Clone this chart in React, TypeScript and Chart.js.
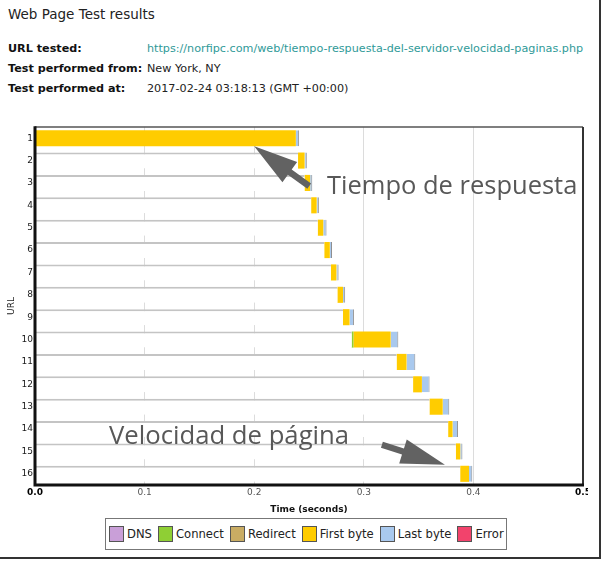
import React, { useEffect, useRef } from 'react';
import { Chart, registerables } from 'chart.js';
Chart.register(...registerables);

const FONT = '"DejaVu Sans", Verdana, sans-serif';

const categories = ['1', '2', '3', '4', '5', '6', '7', '8', '9', '10', '11', '12', '13', '14', '15', '16'];
const startOffset = [0, 0.24, 0.246, 0.252, 0.258, 0.264, 0.27, 0.276, 0.281, 0.289, 0.33, 0.345, 0.36, 0.377, 0.384, 0.388];
const dnsTime = [0, 0, 0, 0, 0, 0, 0, 0, 0, 0, 0, 0, 0, 0, 0, 0];
const connectTime = [0, 0, 0, 0, 0, 0, 0, 0, 0, 0.0015, 0, 0, 0, 0, 0, 0];
const redirectTime = [0, 0, 0, 0, 0, 0, 0, 0, 0, 0, 0, 0, 0, 0, 0, 0];
const firstByte = [0.238, 0.006, 0.005, 0.005, 0.005, 0.005, 0.005, 0.005, 0.006, 0.034, 0.009, 0.008, 0.012, 0.004, 0.004, 0.008];
const lastByte = [0.003, 0.002, 0.002, 0.002, 0.003, 0.002, 0.002, 0.002, 0.004, 0.007, 0.008, 0.007, 0.006, 0.005, 0.002, 0.003];
const errorTime = [0, 0, 0, 0, 0, 0, 0, 0, 0, 0, 0, 0, 0, 0, 0, 0];

const seriesNames = ['DNS', 'Connect', 'Redirect', 'First byte', 'Last byte', 'Error'];
const seriesColors = ['#c99fd8', '#8fcf34', '#c9ac63', '#ffcc00', '#a9c9ee', '#f2436c'];
const xTickLabels = ['0.0', '0.1', '0.2', '0.3', '0.4', '0.5'];

const headerTitle = 'Web Page Test results';
const infoLabels = ['URL tested:', 'Test performed from:', 'Test performed at:'];
const infoValues = ['https://norfipc.com/web/tiempo-respuesta-del-servidor-velocidad-paginas.php', 'New York, NY', '2017-02-24 03:18:13 (GMT +00:00)'];
const annotationTexts = ['Tiempo de respuesta', 'Velocidad de página'];
// arrow tips in data units (time, row index)
const arrowTipTime = [0.2, 0.374];
const arrowTipRow = [0, 15];

function drawArrow(ctx: CanvasRenderingContext2D, tx: number, ty: number, sx: number, sy: number) {
  const dx = sx - tx, dy = sy - ty;
  const len = Math.hypot(dx, dy);
  const ux = dx / len, uy = dy / len;
  const nx = -uy, ny = ux;
  const headLen = 44, headHalf = 12.5, shaftHalf = 3.2;
  const bx = tx + ux * headLen, by = ty + uy * headLen;
  ctx.save();
  ctx.fillStyle = '#626262';
  ctx.beginPath();
  ctx.moveTo(tx, ty);
  ctx.lineTo(bx + nx * headHalf, by + ny * headHalf);
  ctx.lineTo(bx + nx * shaftHalf, by + ny * shaftHalf);
  ctx.lineTo(sx + nx * shaftHalf, sy + ny * shaftHalf);
  ctx.lineTo(sx - nx * shaftHalf, sy - ny * shaftHalf);
  ctx.lineTo(bx - nx * shaftHalf, by - ny * shaftHalf);
  ctx.lineTo(bx - nx * headHalf, by - ny * headHalf);
  ctx.closePath();
  ctx.fill();
  ctx.restore();
}

const framePlugin = {
  id: 'frame',
  afterDatasetsDraw(chart: any) {
    const ctx = chart.ctx as CanvasRenderingContext2D;
    const xs = chart.scales.x, ys = chart.scales.y;
    const tails = [[55, 40], [-63, -20]];
    const dys = [8, -9];
    for (let i = 0; i < arrowTipTime.length; i++) {
      const tx = xs.getPixelForValue(arrowTipTime[i]);
      const ty = ys.getPixelForValue(arrowTipRow[i]) + dys[i];
      drawArrow(ctx, tx, ty, tx + tails[i][0], ty + tails[i][1]);
    }
  },
  afterDraw(chart: any) {
    const ctx = chart.ctx as CanvasRenderingContext2D;
    const a = chart.chartArea;
    ctx.save();
    ctx.strokeStyle = '#555';
    ctx.lineWidth = 1.5;
    ctx.beginPath();
    ctx.moveTo(a.left, a.top);
    ctx.lineTo(a.right, a.top);
    ctx.stroke();
    ctx.strokeStyle = '#333';
    ctx.lineWidth = 2;
    ctx.beginPath();
    ctx.moveTo(a.right, a.top);
    ctx.lineTo(a.right, a.bottom);
    ctx.stroke();
    ctx.strokeStyle = '#111';
    ctx.lineWidth = 3;
    ctx.beginPath();
    ctx.moveTo(a.left, a.top - 0.75);
    ctx.lineTo(a.left, a.bottom);
    ctx.lineTo(a.right + 1, a.bottom);
    ctx.stroke();
    ctx.restore();
  },
};

export default function App() {
  const ref = useRef<HTMLCanvasElement>(null);
  useEffect(() => {
    if (!ref.current) return;
    const seriesData = [dnsTime, connectTime, redirectTime, firstByte, lastByte, errorTime];
    const datasets: any[] = [
      {
        label: 'offset',
        data: startOffset,
        backgroundColor: '#ffffff',
        borderColor: '#c4c4c4',
        borderWidth: { top: 2, left: 0, right: 0, bottom: 0 },
        borderSkipped: false,
      },
    ];
    seriesNames.forEach((name, i) => {
      datasets.push({
        label: name,
        data: seriesData[i],
        backgroundColor: seriesColors[i],
        borderColor: name === 'Last byte' ? '#8e8e8e' : seriesColors[i],
        borderWidth: name === 'Last byte' ? { top: 0, left: 0, bottom: 0, right: 1 } : 0,
        borderSkipped: false,
      });
    });
    const chart = new Chart(ref.current, {
      type: 'bar',
      data: { labels: categories, datasets },
      options: {
        animation: false,
        responsive: false,
        maintainAspectRatio: false,
        indexAxis: 'y',
        datasets: { bar: { barPercentage: 0.72, categoryPercentage: 1 } },
        layout: { padding: { left: 0, top: 127, right: 18, bottom: 46 } },
        plugins: { legend: { display: false }, tooltip: { enabled: false } },
        scales: {
          x: {
            stacked: true,
            min: 0,
            max: 0.5,
            afterFit: (s: any) => { s.height = 30; },
            border: { display: false },
            grid: {
              drawTicks: false,
              color: (c: any) => (c.index === 0 || c.index === 5 ? 'rgba(0,0,0,0)' : '#dcdcdc'),
              lineWidth: 1,
            },
            ticks: {
              stepSize: 0.1,
              padding: 2,
              maxRotation: 0,
              autoSkip: false,
              callback: (_v: any, i: number) => xTickLabels[i],
              color: (c: any) => (c.index === 0 || c.index === 5 ? '#000' : '#555'),
              font: (c: any) => ({ family: FONT, size: 9, weight: c.index === 0 || c.index === 5 ? 'bold' : 'normal' }),
            },
            title: {
              display: true,
              text: 'Time (seconds)',
              color: '#111',
              font: { family: FONT, size: 9, weight: 'bold' },
              padding: { top: 0, bottom: 0 },
            },
          },
          y: {
            stacked: true,
            afterFit: (s: any) => { s.width = 35; },
            border: { display: false },
            grid: { display: false, drawTicks: false },
            ticks: {
              padding: 2,
              autoSkip: false,
              color: '#1a1a1a',
              font: { family: FONT, size: 9 },
            },
            title: {
              display: true,
              text: 'URL',
              color: '#222',
              font: { family: FONT, size: 9 },
              padding: { top: 6, bottom: 0 },
            },
          },
        },
      },
      plugins: [framePlugin],
    });
    return () => chart.destroy();
  }, []);

  const abs = (o: any): React.CSSProperties => ({ position: 'absolute', whiteSpace: 'nowrap', lineHeight: 1, ...o });

  return (
    <div style={{ position: 'absolute', left: 0, top: 0, width: 601, height: 561, background: '#fff', overflow: 'hidden' }}>
      <div style={{ position: 'absolute', left: 0, top: 0, width: 599, height: 557, borderRight: '2px solid #333', borderBottom: '2px solid #333' }} />
      <div style={abs({ left: 8, top: 8, fontFamily: FONT, fontSize: 13.5, color: '#222' })}>{headerTitle}</div>
      {infoLabels.map((t, i) => (
        <div key={'l' + i} style={abs({ left: 8, top: 42.5 + i * 20, fontFamily: FONT, fontSize: 11.2, fontWeight: 'bold', color: '#111' })}>{t}</div>
      ))}
      {infoValues.map((t, i) => (
        <div key={'v' + i} style={abs({ left: 147, top: 42.5 + i * 20, fontFamily: FONT, fontSize: 11.2, color: i === 0 ? '#2f9a98' : '#222' })}>{t}</div>
      ))}
      <div style={{ position: 'absolute', left: 0, top: 0, width: 588, height: 561, overflow: 'hidden' }}>
        <canvas ref={ref} width={601} height={561} style={{ display: 'block', width: 601, height: 561 }} />
      </div>
      <div style={abs({ left: 327, top: 171.5, fontFamily: '"Open Sans", sans-serif', fontSize: 25.5, color: '#585858' })}>{annotationTexts[0]}</div>
      <div style={abs({ left: 109, top: 421.5, fontFamily: '"Open Sans", sans-serif', fontSize: 25.7, color: '#585858' })}>{annotationTexts[1]}</div>
      <div style={{ position: 'absolute', left: 105, top: 518, width: 397, height: 30, border: '1px solid #777', background: '#fff', display: 'flex', alignItems: 'center', paddingLeft: 3, boxSizing: 'content-box' }}>
        {seriesNames.map((n, i) => (
          <div key={n} style={{ display: 'flex', alignItems: 'center', marginRight: 6 }}>
            <span style={{ display: 'inline-block', width: 13, height: 14, background: seriesColors[i], border: '1px solid #555', marginRight: 3 }} />
            <span style={{ fontFamily: FONT, fontSize: 11.6, color: '#222', whiteSpace: 'nowrap' }}>{n}</span>
          </div>
        ))}
      </div>
    </div>
  );
}
